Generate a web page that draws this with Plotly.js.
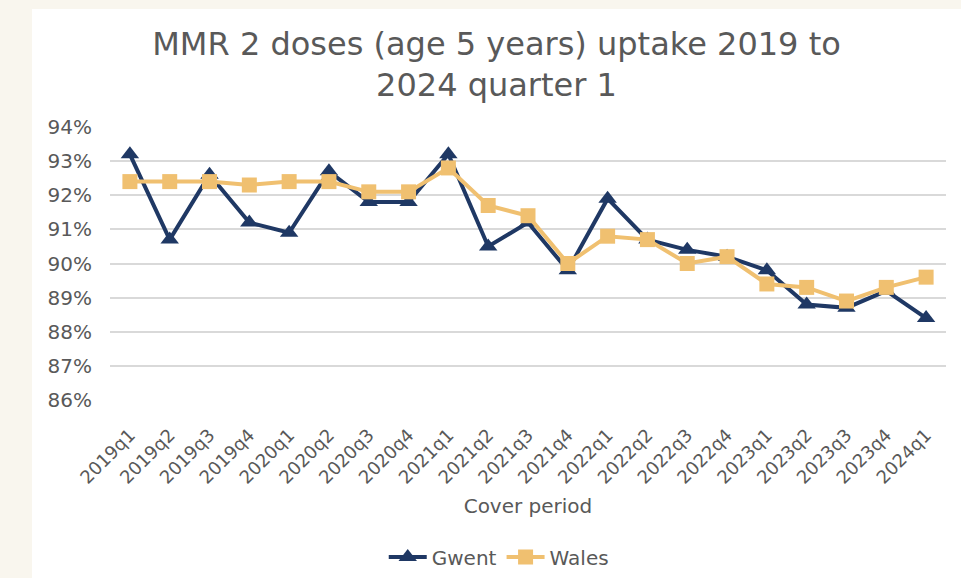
<!DOCTYPE html>
<html>
<head>
<meta charset="utf-8">
<script src="https://cdn.plot.ly/plotly-3.0.1.min.js"></script>
<style>
  html, body { margin: 0; padding: 0; background: #f9f6ee; width: 961px; height: 578px; overflow: hidden; }
  #chart { position: absolute; left: 32px; top: 9px; width: 929px; height: 569px; background: #fff; }
</style>
</head>
<body>
<div id="chart"></div>
<script>
var periods = ['2019q1','2019q2','2019q3','2019q4','2020q1','2020q2','2020q3','2020q4',
  '2021q1','2021q2','2021q3','2021q4','2022q1','2022q2','2022q3','2022q4',
  '2023q1','2023q2','2023q3','2023q4','2024q1'];
var gwent = [93.2, 90.7, 92.6, 91.2, 90.9, 92.7, 91.8, 91.8,
  93.2, 90.5, 91.2, 89.8, 91.9, 90.7, 90.4, 90.2,
  89.8, 88.8, 88.7, 89.2, 88.4];
var wales = [92.4, 92.4, 92.4, 92.3, 92.4, 92.4, 92.1, 92.1,
  92.8, 91.7, 91.4, 90.0, 90.8, 90.7, 90.0, 90.2,
  89.4, 89.3, 88.9, 89.3, 89.6];
var yTicks = [86, 87, 88, 89, 90, 91, 92, 93, 94];

var txtColor = '#595959';
var fontFam = 'DejaVu Sans, Verdana, sans-serif';

var data = [
  {
    type: 'scatter', mode: 'lines+markers', name: 'Gwent',
    x: periods, y: gwent.map(function (v) { return v / 100; }),
    line: {color: '#1f3864', width: 4},
    marker: {symbol: 'triangle-up', size: 16, color: '#1f3864'}
  },
  {
    type: 'scatter', mode: 'lines+markers', name: 'Wales',
    x: periods, y: wales.map(function (v) { return v / 100; }),
    line: {color: '#f0c070', width: 4},
    marker: {symbol: 'square', size: 15, color: '#f0c070'}
  }
];

var layout = {
  width: 929, height: 569,
  paper_bgcolor: '#ffffff', plot_bgcolor: '#ffffff',
  margin: {l: 78, r: 15, t: 118, b: 178},
  font: {family: fontFam, color: txtColor},
  title: {
    text: 'MMR 2 doses (age 5 years) uptake 2019 to<br>2024 quarter 1',
    font: {family: fontFam, size: 32, color: txtColor},
    x: 0.5, xref: 'container', xanchor: 'center',
    y: 0.92, yref: 'container', yanchor: 'middle'
  },
  xaxis: {
    type: 'category', range: [-0.5, 20.5],
    tickangle: -45, tickfont: {family: fontFam, size: 18, color: txtColor},
    ticklabelstandoff: 20,
    showgrid: false, zeroline: false, showline: false, ticks: '',
    title: {text: 'Cover period', font: {family: fontFam, size: 20, color: txtColor}, standoff: 12},
    automargin: false
  },
  yaxis: {
    range: [0.86, 0.94],
    tickvals: yTicks.map(function (v) { return v / 100; }),
    ticktext: yTicks.map(function (v) { return v + '%'; }),
    tickfont: {family: fontFam, size: 20, color: txtColor},
    ticklabelstandoff: 17,
    gridcolor: '#d9d9d9', gridwidth: 2,
    zeroline: false, showline: false, ticks: '',
    automargin: false
  },
  showlegend: true,
  legend: {
    orientation: 'h', x: 0.465, xanchor: 'center',
    yref: 'container', y: 0.037, yanchor: 'middle',
    font: {family: fontFam, size: 20, color: txtColor},
    itemwidth: 38
  }
};

Plotly.newPlot('chart', data, layout, {displayModeBar: false, staticPlot: true});
</script>
</body>
</html>
